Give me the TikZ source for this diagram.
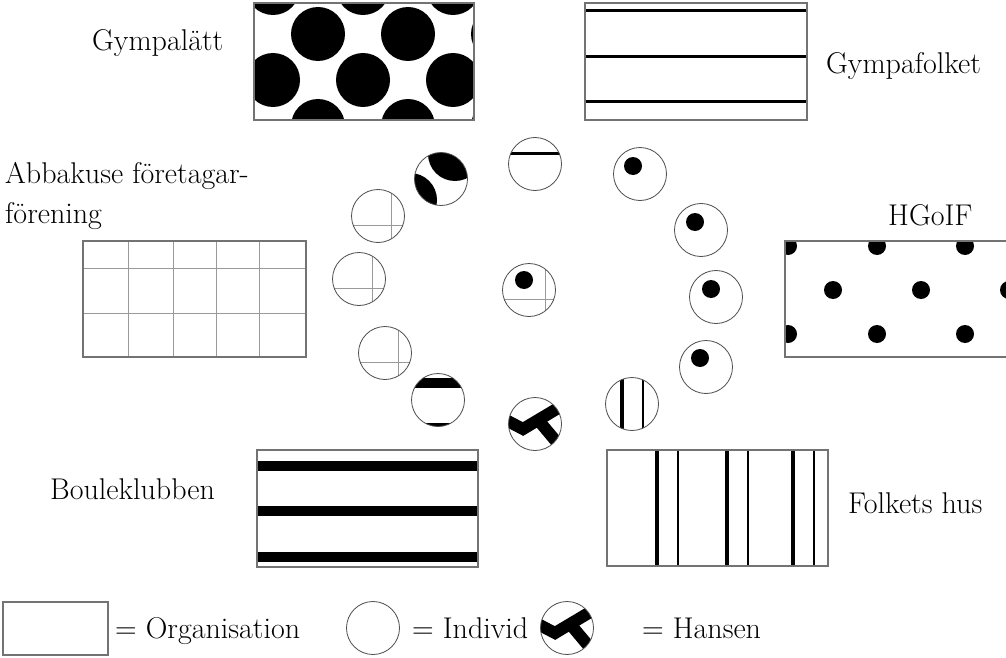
\documentclass[tikz,border=0pt]{standalone}
\usepackage{fontspec}
\usepackage{tikz}

\newcommand\hansenmark[2]{%
  \begin{scope}[shift={(#1,#2)}]
    \begin{scope}
      \clip (0,0) circle (26.5);
      \draw[line width=12] (-35,-7) -- (-12,5) -- (35,-23);
      \draw[line width=12] (4,-3) -- (30,28);
    \end{scope}
    \draw[indiv] (0,0) circle (26.5);
  \end{scope}}

\begin{document}
\begin{tikzpicture}[x=1pt,y=-1pt,
    org/.style={draw=black!55,line width=1.2},
    indiv/.style={draw=black!70,line width=0.8},
    grid/.style={draw=black!40,line width=0.8},
    lbl/.style={inner sep=0,anchor=base west,font=\fontsize{30}{34}\selectfont}]
        \useasboundingbox (0,0) rectangle (1006,658);
        % Gympalatt
        \begin{scope}
            \clip (254,3) rectangle (474,120);
            \foreach \x in {183,273,363,453,543} {
                \fill (\x,-12) circle (27);
                \fill (\x,80) circle (27);
            }
            \foreach \x in {228,318,408,498} {
                \fill (\x,34) circle (27);
                \fill (\x,126) circle (27);
            }
        \end{scope}
        \draw[org] (254,3) rectangle (474,120);
        \node[lbl] (gympalatt) at (92,51) {Gympalätt};
        % Gympafolket
        \foreach \y in {11,57,102}
            \draw[line width=3] (585,\y) -- (807,\y);
        \draw[org] (585,3) rectangle (807,120);
        \node[lbl] (gympafolket) at (826,74) {Gympafolket};
        % Abbakuse
        \foreach \x in {128,173,216,259}
            \draw[grid] (\x,241) -- (\x,357);
        \foreach \y in {268,313}
            \draw[grid] (83,\y) -- (306,\y);
        \draw[org] (83,241) rectangle (306,357);
        \node[lbl] (abbakuse) at (5,183) {Abbakuse företagar-};
        \node[lbl] (forening) at (5,223) {förening};
        % HGoIF
        \begin{scope}
            \clip (785,241) rectangle (1012,357);
            \foreach \x in {788,877,965} {
                \fill (\x,246) circle (9);
                \fill (\x,334) circle (9);
            }
            \foreach \x in {833,921,1009}
                \fill (\x,290) circle (9);
        \end{scope}
        \draw[org] (785,241) rectangle (1012,357);
        \node[lbl] (hgoif) at (888,225) {HGoIF};
        % Bouleklubben
        \foreach \y in {466,511,557}
            \draw[line width=10] (257,\y) -- (478,\y);
        \draw[org] (257,450) rectangle (478,567);
        \node[lbl] (boule) at (50,499) {Bouleklubben};
        % Folkets hus
        \foreach \x in {657,727,793}
            \draw[line width=4.5] (\x,450) -- (\x,566);
        \foreach \x in {678,748,814}
            \draw[line width=1.5] (\x,450) -- (\x,566);
        \draw[org] (607,450) rectangle (828,566);
        \node[lbl] (folkets) at (848,513) {Folkets hus};

        % individer
        \begin{scope}
            \clip (535,164) circle (26.5);
            \draw[line width=3] (500,153) -- (570,153);
        \end{scope}
        \draw[indiv] (535,164) circle (26.5);
        \begin{scope}
            \clip (441,179) circle (26.5);
            \fill (455,154) circle (27);
            \fill (410,200) circle (27);
        \end{scope}
        \draw[indiv] (441,179) circle (26.5);
        \fill (633,166) circle (9);
        \draw[indiv] (640,174) circle (26.5);
        \fill (695,222) circle (9);
        \draw[indiv] (701,230) circle (26.5);
        \fill (711,289) circle (9);
        \draw[indiv] (716,297) circle (26.5);
        \fill (700,358) circle (9);
        \draw[indiv] (706,367) circle (26.5);
        \begin{scope}
            \clip (632,404) circle (26.5);
            \draw[line width=4] (622,370) -- (622,440);
            \draw[line width=1.5] (643,370) -- (643,440);
        \end{scope}
        \draw[indiv] (632,404) circle (26.5);
        \hansenmark{535}{424}
        \begin{scope}
            \clip (438,400) circle (26.5);
            \draw[line width=10] (400,383) -- (480,383);
            \draw[line width=10] (400,428) -- (480,428);
        \end{scope}
        \draw[indiv] (438,400) circle (26.5);
        \begin{scope}
            \clip (385,353) circle (26.5);
            \draw[grid] (398,320) -- (398,390);
            \draw[grid] (350,362) -- (420,362);
        \end{scope}
        \draw[indiv] (385,353) circle (26.5);
        \begin{scope}
            \clip (359,279) circle (26.5);
            \draw[grid] (372,245) -- (372,315);
            \draw[grid] (325,288) -- (395,288);
        \end{scope}
        \draw[indiv] (359,279) circle (26.5);
        \begin{scope}
            \clip (378,216) circle (26.5);
            \draw[grid] (391,180) -- (391,250);
            \draw[grid] (345,225) -- (415,225);
        \end{scope}
        \draw[indiv] (378,216) circle (26.5);
        \begin{scope}
            \clip (529,290) circle (26.5);
            \draw[grid] (545,255) -- (545,325);
            \draw[grid] (495,299) -- (565,299);
        \end{scope}
        \fill (524,280) circle (9);
        \draw[indiv] (529,290) circle (26.5);

        % forklaring
        \draw[org] (3,602) rectangle (108,655);
        \node[lbl] (organisation) at (115,638) {= Organisation};
        \draw[indiv] (373,628) circle (26.5);
        \node[lbl] (individ) at (412,638) {= Individ};
        \hansenmark{567}{628}
        \node[lbl] (hansen) at (642,638) {= Hansen};
    \end{tikzpicture}
\end{document}
